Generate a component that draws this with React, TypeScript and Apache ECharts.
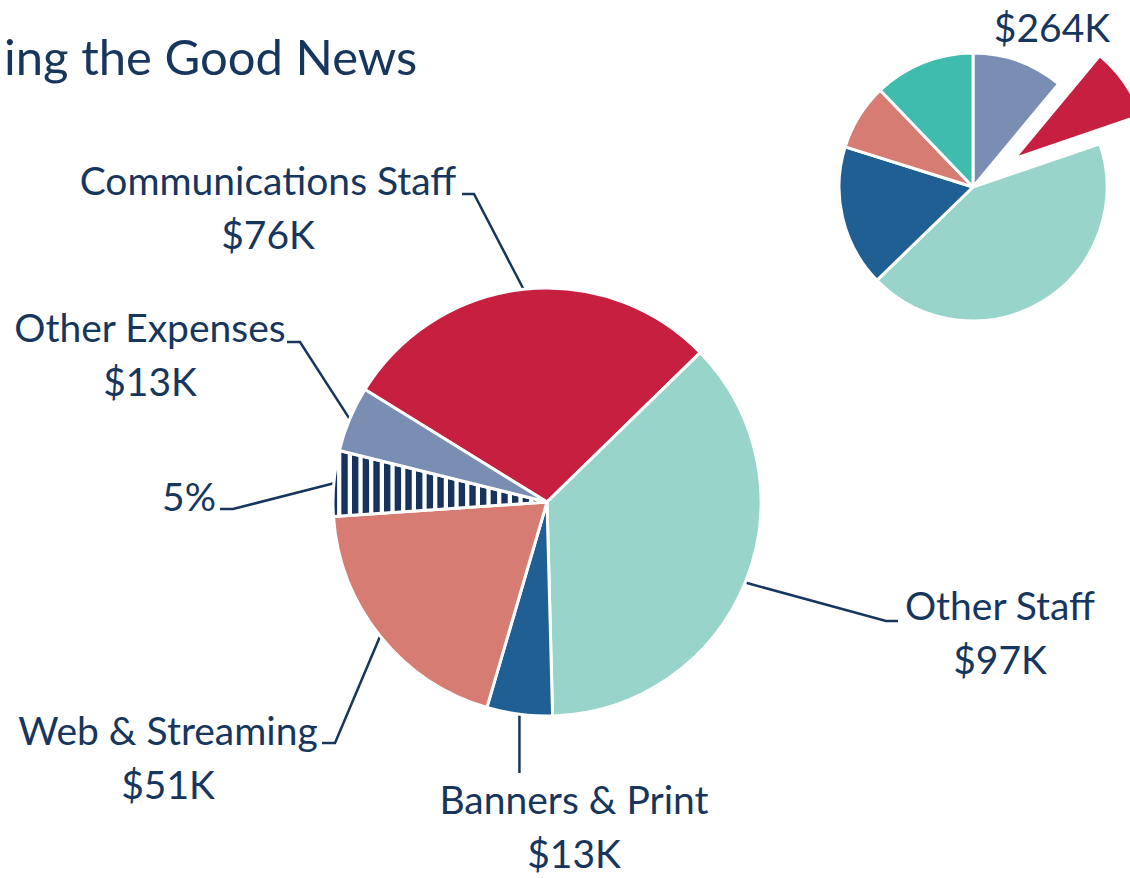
import React, { useEffect, useRef } from 'react';
import * as echarts from 'echarts';

// ---- data ----
const mainCategories = ['Communications Staff', 'Other Staff', 'Banners & Print', 'Web & Streaming', 'Unlabeled 5%', 'Other Expenses'];
const mainValues = [76, 97, 13, 51, 13, 13];
const mainLabels = ['Communications Staff\n$76K', 'Other Staff\n$97K', 'Banners & Print\n$13K', 'Web & Streaming\n$51K', '5%', 'Other Expenses\n$13K'];
const miniCategories = ['Segment A', 'Segment B', 'Segment C', 'Segment D', 'Segment E', 'Segment F'];
const miniValues = [29, 23, 113, 45, 21, 32];
const miniTotalLabel = '$264K';
const titleText = 'ing the Good News';

// ---- styles ----
const NAVY = '#17365d';
const FONT = 'Lato, "Open Sans", sans-serif';
const LABEL_SIZE = 39;
const mainColors = ['#c61f3f', '#98d4c9', '#1f5f93', '#d77c73', 'STRIPES', '#7a8db3'];
const miniColors = ['#7a8db3', '#c61f3f', '#98d4c9', '#1f5f93', '#d77c73', '#3fbcad'];

// label anchor (center) and leader-line bend/end per slice of the main pie
const labelPlacement = [
  { x: 268, y: 207, line: [[474, 194], [462, 194]] },
  { x: 1000, y: 632, line: [[886, 621], [898, 621]] },
  { x: 574, y: 817, line: null as any },
  { x: 168, y: 757, line: [[335, 743], [322, 743]] },
  { x: 189, y: 496, line: [[233, 509], [220, 509]] },
  { x: 150, y: 354, line: [[300, 342], [287, 342]] },
];

function makeStripes() {
  const c = document.createElement('canvas');
  c.width = 32;
  c.height = 32;
  const ctx = c.getContext('2d')!;
  ctx.fillStyle = '#ffffff';
  ctx.fillRect(0, 0, 32, 32);
  ctx.fillStyle = '#17325c';
  for (let i = 0; i < 3; i++) ctx.fillRect(i * (32 / 3), 0, 6.4, 32);
  return c;
}

export default function App() {
  const ref = useRef<HTMLDivElement>(null);
  useEffect(() => {
    if (!ref.current) return;
    const chart = echarts.init(ref.current, undefined, { renderer: 'svg' });
    const stripes = makeStripes();
    const stripePattern: any = { image: stripes, repeat: 'repeat', imageWidth: 32, imageHeight: 32 };
    const txt = { color: NAVY, fontFamily: FONT, fontSize: LABEL_SIZE };

    const option: any = {
      animation: false,
      backgroundColor: '#ffffff',
      tooltip: { show: false },
      graphic: [
        {
          type: 'text',
          left: 4,
          top: 31,
          style: { text: titleText, font: `49px ${FONT}`, fill: NAVY },
          silent: true,
        },
        {
          type: 'text',
          x: 1052,
          y: 27,
          style: { text: miniTotalLabel, font: `${LABEL_SIZE}px ${FONT}`, fill: NAVY, align: 'center', verticalAlign: 'middle' },
          silent: true,
        },
      ],
      series: [
        {
          type: 'pie',
          center: [547, 502],
          radius: 214,
          startAngle: 148.3,
          clockwise: true,
          avoidLabelOverlap: false,
          emphasis: { disabled: true },
          silent: true,
          itemStyle: { borderColor: '#ffffff', borderWidth: 3 },
          label: {
            show: true,
            position: 'outside',
            ...txt,
            lineHeight: 54,
            align: 'center',
            formatter: (p: any) => {
              const s = mainLabels[p.dataIndex];
              if (p.dataIndex === 2) {
                const [a, b] = s.split('\n');
                return `{a|${a}}\n{b|${b}}`;
              }
              return s;
            },
            rich: {
              a: { ...txt, lineHeight: 72 },
              b: { ...txt, lineHeight: 36 },
            },
          },
          labelLine: { show: true, length: 10, length2: 10, lineStyle: { color: NAVY, width: 2.5 } },
          labelLayout: (params: any) => {
            const pl = labelPlacement[params.dataIndex];
            const p0 = params.labelLinePoints ? params.labelLinePoints[0] : null;
            const res: any = { x: pl.x, y: pl.y, align: 'center', verticalAlign: 'middle' };
            if (p0) {
              res.labelLinePoints = pl.line ? [p0, pl.line[0], pl.line[1]] : [p0, [p0[0], 773], [p0[0], 773]];
            }
            return res;
          },
          data: mainValues.map((v, i) => ({
            name: mainCategories[i],
            value: v,
            itemStyle: { color: mainColors[i] === 'STRIPES' ? stripePattern : mainColors[i] },
          })),
        },
        {
          type: 'pie',
          center: [973, 187],
          radius: 134,
          startAngle: 90,
          clockwise: true,
          selectedMode: 'single',
          selectedOffset: 50,
          emphasis: { disabled: true },
          silent: true,
          label: { show: false },
          labelLine: { show: false },
          itemStyle: { borderColor: '#ffffff', borderWidth: 3 },
          select: { itemStyle: { borderColor: '#ffffff', borderWidth: 3 } },
          data: miniValues.map((v, i) => ({
            name: miniCategories[i],
            value: v,
            selected: i === 1,
            itemStyle: { color: miniColors[i] },
          })),
        },
      ],
    };
    chart.setOption(option);
    return () => chart.dispose();
  }, []);
  return (
    <div
      ref={ref}
      style={{ position: 'absolute', left: 0, top: 0, width: 1130, height: 878, overflow: 'hidden' }}
    />
  );
}
